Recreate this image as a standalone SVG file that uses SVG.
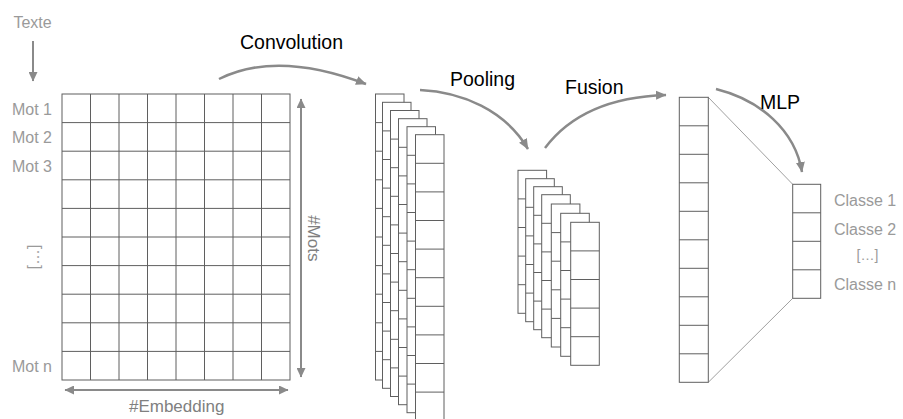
<svg xmlns="http://www.w3.org/2000/svg" xmlns:xlink="http://www.w3.org/1999/xlink" width="903" height="419" viewBox="0 0 903 419">
<style>
.cell{fill:#fff;stroke:#5f5f5f;stroke-width:1}
.div{fill:none;stroke:#5f5f5f;stroke-width:1}
.arc{fill:none;stroke:#8a8a8a;stroke-width:2.5}
.dim{fill:none;stroke:#8a8a8a;stroke-width:2}
.thin{fill:none;stroke:#a0a0a0;stroke-width:1}
.lbl{font-family:"Liberation Sans",Arial,Helvetica,sans-serif;font-size:19.5px;fill:#000}
.glbl{font-family:"Liberation Sans",Arial,Helvetica,sans-serif;font-size:16px;fill:#9a9a9a}
.dlbl{font-family:"Liberation Sans",Arial,Helvetica,sans-serif;font-size:17px;fill:#808080}
</style>
<defs>
<marker id="ah" markerUnits="userSpaceOnUse" markerWidth="11" markerHeight="10" refX="10" refY="5" orient="auto-start-reverse" viewBox="0 0 11 10">
<path d="M0,0.5 L10.5,5 L0,9.5 z" fill="#8a8a8a"/>
</marker>
<marker id="ahs" markerUnits="userSpaceOnUse" markerWidth="10" markerHeight="9" refX="9" refY="4.5" orient="auto-start-reverse" viewBox="0 0 10 9">
<path d="M0,0 L9.5,4.5 L0,9 z" fill="#8a8a8a"/>
</marker>
<g id="convLayer">
<rect x="0" y="0" width="28.5" height="286" class="cell"/>
<path class="div" d="M0 28.6H28.5M0 57.2H28.5M0 85.8H28.5M0 114.4H28.5M0 143H28.5M0 171.6H28.5M0 200.2H28.5M0 228.8H28.5M0 257.4H28.5"/>
</g>
<g id="poolLayer">
<rect x="0" y="0" width="28.6" height="143" class="cell"/>
<path class="div" d="M0 28.6H28.6M0 57.2H28.6M0 85.8H28.6M0 114.4H28.6"/>
</g>
</defs>
<rect width="903" height="419" fill="#fff"/>

<g id="connectors">
<path class="dim" d="M33 41V81" marker-end="url(#ahs)"/>
<path class="dim" d="M301 99V377" marker-start="url(#ahs)" marker-end="url(#ahs)"/>
<path class="dim" d="M65 390H288" marker-start="url(#ahs)" marker-end="url(#ahs)"/>
<path class="arc" d="M219 79Q277 50 366 84" marker-end="url(#ah)"/>
<path class="arc" d="M420 90C462 92 505 110 528 149" marker-end="url(#ah)"/>
<path class="arc" d="M545 148C566 120 602 97 666 95" marker-end="url(#ah)"/>
<path class="arc" d="M716 89C760 100 795 130 802 172" marker-end="url(#ah)"/>
<path class="thin" d="M708.3 97.3L792.7 184.3M708.3 382.3L792.7 298.3"/>
</g>

<g id="input-matrix">
<rect x="62" y="94" width="228" height="286" class="cell"/>
<path class="div" d="M90.5 94V380M119 94V380M147.5 94V380M176 94V380M204.5 94V380M233 94V380M261.5 94V380"/>
<path class="div" d="M62 122.6H290M62 151.2H290M62 179.8H290M62 208.4H290M62 237H290M62 265.6H290M62 294.2H290M62 322.8H290M62 351.4H290"/>
</g>

<g id="conv-maps">
<use xlink:href="#convLayer" x="375.5" y="94"/>
<use xlink:href="#convLayer" x="382.5" y="102.3"/>
<use xlink:href="#convLayer" x="390.5" y="110.5"/>
<use xlink:href="#convLayer" x="398.5" y="118.7"/>
<use xlink:href="#convLayer" x="407" y="126.7"/>
<use xlink:href="#convLayer" x="415.5" y="134.7"/>
</g>

<g id="pool-maps">
<use xlink:href="#poolLayer" x="518" y="170.3"/>
<use xlink:href="#poolLayer" x="525.7" y="178.7"/>
<use xlink:href="#poolLayer" x="533.7" y="186.7"/>
<use xlink:href="#poolLayer" x="541.7" y="194.7"/>
<use xlink:href="#poolLayer" x="551.3" y="204"/>
<use xlink:href="#poolLayer" x="560.7" y="213.3"/>
<use xlink:href="#poolLayer" x="570.7" y="222.3"/>
</g>

<g id="fusion-vector">
<rect x="679.3" y="97.3" width="29" height="285" class="cell"/>
<path class="div" d="M679.3 125.8h29M679.3 154.3h29M679.3 182.8h29M679.3 211.3h29M679.3 239.8h29M679.3 268.3h29M679.3 296.8h29M679.3 325.3h29M679.3 353.8h29"/>
</g>

<g id="output-vector">
<rect x="792.7" y="184.3" width="28" height="114" class="cell"/>
<path class="div" d="M792.7 212.8h28M792.7 241.3h28M792.7 269.8h28"/>
</g>

<g id="labels">
<text class="glbl" x="32.5" y="28.3" text-anchor="middle">Texte</text>
<text class="glbl" x="52" y="115" text-anchor="end">Mot 1</text>
<text class="glbl" x="52" y="143.3" text-anchor="end">Mot 2</text>
<text class="glbl" x="52" y="171.7" text-anchor="end">Mot 3</text>
<text class="glbl" x="52" y="371.7" text-anchor="end">Mot n</text>
<text class="glbl" text-anchor="middle" transform="translate(39.3 257) rotate(-90)">[…]</text>
<text class="dlbl" text-anchor="middle" transform="translate(307.5 238.3) rotate(90)">#Mots</text>
<text class="dlbl" x="176.7" y="412.3" text-anchor="middle">#Embedding</text>
<text class="lbl" x="240" y="49">Convolution</text>
<text class="lbl" x="450" y="86">Pooling</text>
<text class="lbl" x="565" y="94">Fusion</text>
<text class="lbl" x="760" y="109">MLP</text>
<text class="glbl" x="834" y="205.5">Classe 1</text>
<text class="glbl" x="834" y="234.8">Classe 2</text>
<text class="glbl" x="867.5" y="259.8" text-anchor="middle" style="font-size:14px">[…]</text>
<text class="glbl" x="834" y="290">Classe n</text>
</g>
</svg>
